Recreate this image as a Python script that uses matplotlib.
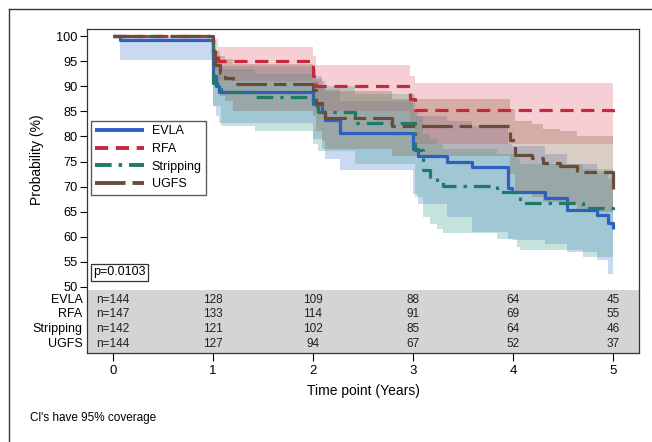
import matplotlib
matplotlib.use("Agg")
import matplotlib.pyplot as plt
from matplotlib.lines import Line2D
import numpy as np

plt.rcParams['font.family'] = ['Liberation Sans', 'DejaVu Sans']
plt.rcParams['lines.scale_dashes'] = False

groups = ["EVLA", "RFA", "Stripping", "UGFS"]

# EVLA
evla_t  = [0.00, 0.07, 1.00, 1.03, 1.06, 2.00, 2.09, 2.12, 2.27, 3.00, 3.05, 3.34, 3.59, 3.95, 3.99, 4.32, 4.54, 4.84, 4.95, 5.00]
evla_s  = [100, 99.3, 92.0, 90.0, 88.9, 86.5, 84.9, 83.3, 80.6, 77.5, 76.0, 75.0, 74.0, 69.7, 69.0, 67.7, 65.3, 64.3, 62.7, 61.5]
evla_lo = [100, 95.2, 86.0, 84.0, 82.7, 79.5, 77.5, 75.5, 73.3, 68.5, 66.5, 64.0, 61.0, 59.5, 59.4, 58.5, 57.0, 55.4, 52.5, 51.0]
evla_hi = [100, 100, 97.0, 95.0, 94.0, 92.0, 91.0, 89.5, 87.0, 85.0, 84.0, 83.0, 82.0, 78.5, 78.0, 76.5, 74.5, 73.0, 71.5, 70.5]

# RFA
rfa_t  = [0.00, 1.00, 1.05, 2.00, 2.03, 2.97, 3.02, 5.00]
rfa_s  = [100, 97.0, 95.0, 92.0, 90.0, 87.5, 85.3, 83.5]
rfa_lo = [100, 93.0, 91.0, 87.0, 85.0, 82.0, 78.5, 76.0]
rfa_hi = [100, 99.5, 97.8, 96.0, 94.2, 92.0, 90.6, 89.0]

# Stripping
str_t  = [0.00, 1.00, 1.08, 1.42, 2.00, 2.05, 2.42, 3.02, 3.10, 3.17, 3.24, 3.30, 3.84, 4.04, 4.07, 4.70, 5.00]
str_s  = [100, 90.6, 88.9, 87.8, 86.0, 84.9, 82.6, 77.3, 73.3, 72.0, 71.0, 70.1, 69.0, 68.0, 66.8, 65.7, 64.5]
str_lo = [100, 86.0, 82.0, 81.0, 78.5, 77.0, 74.5, 68.0, 64.0, 62.5, 61.5, 60.8, 59.5, 58.0, 57.4, 56.0, 54.0]
str_hi = [100, 95.0, 93.5, 92.5, 91.0, 90.0, 88.5, 84.0, 80.5, 79.5, 78.5, 77.5, 76.5, 75.5, 74.5, 73.5, 72.5]

# UGFS
ugfs_t  = [0.00, 1.00, 1.02, 1.07, 1.12, 1.20, 2.00, 2.03, 2.09, 2.12, 2.79, 3.97, 4.02, 4.19, 4.30, 4.47, 4.64, 5.00]
ugfs_s  = [100, 97.0, 94.2, 92.6, 91.6, 90.4, 89.2, 86.7, 84.9, 83.6, 82.1, 79.3, 76.3, 75.6, 74.7, 74.1, 73.0, 69.5]
ugfs_lo = [100, 94.0, 90.0, 88.0, 87.0, 85.0, 84.0, 81.0, 79.0, 77.5, 76.0, 72.5, 69.0, 68.0, 67.0, 66.5, 65.0, 62.0]
ugfs_hi = [100, 99.5, 97.0, 96.0, 95.5, 94.5, 93.5, 91.5, 90.0, 89.0, 87.5, 85.5, 83.0, 82.5, 81.5, 81.0, 80.0, 78.0]

risk_times = [0, 1, 2, 3, 4, 5]
risk_evla = [144, 128, 109, 88, 64, 45]
risk_rfa = [147, 133, 114, 91, 69, 55]
risk_str = [142, 121, 102, 85, 64, 46]
risk_ugfs = [144, 127, 94, 67, 52, 37]

p_text = "p=0.0103"

series = [
    ("EVLA", evla_t, evla_s, evla_lo, evla_hi, "#2f5fc0", "#5080d0", None),
    ("RFA", rfa_t, rfa_s, rfa_lo, rfa_hi, "#c8283c", "#e06070", (9.5, 5.5)),
    ("Stripping", str_t, str_s, str_lo, str_hi, "#1f7a68", "#40a090", (12, 5, 2.5, 5)),
    ("UGFS", ugfs_t, ugfs_s, ugfs_lo, ugfs_hi, "#6a4c3a", "#8a6040", (22, 5, 9, 5)),
]
risks = [risk_evla, risk_rfa, risk_str, risk_ugfs]

W, H = 652, 442
fig = plt.figure(figsize=(W / 100, H / 100), dpi=100)

def fx(px):
    return px / W

def fy(py):
    return 1 - py / H

ax = fig.add_axes([fx(87), fy(290), fx(639) - fx(87), fy(29) - fy(290)])
axt = fig.add_axes([fx(87), fy(353), fx(639) - fx(87), fy(290) - fy(353)], sharex=ax)

for name, t, s, lo, hi, lc, bc, dash in series:
    ax.fill_between(t, lo, hi, step='post', color=bc, alpha=0.3, linewidth=0, zorder=1)

handles = []
for name, t, s, lo, hi, lc, bc, dash in series:
    ln, = ax.step(t, s, where='post', color=lc, linewidth=2.3, zorder=3,
                  solid_capstyle='butt', dash_capstyle='butt')
    if dash is not None:
        ln.set_dashes(dash)
    h = Line2D([], [], color=lc, linewidth=2.8, dash_capstyle='butt', solid_capstyle='butt')
    if dash is not None:
        h.set_dashes(dash)
    handles.append(h)

ax.set_xlim(-0.26, 5.26)
ax.set_ylim(49.4, 101.4)
ax.set_yticks(np.arange(50, 101, 5))
ax.tick_params(axis='y', direction='out', length=5, width=0.8, labelsize=9.2, pad=2)
ax.tick_params(axis='x', which='both', bottom=False, labelbottom=False)
for sp in ax.spines.values():
    sp.set_linewidth(0.9)
    sp.set_color('#333333')
ax.spines['bottom'].set_visible(False)
ax.set_ylabel("Probability (%)", fontsize=10)
ax.yaxis.set_label_coords((44 - 87) / (639 - 87), (290 - 160) / (290 - 29))

leg = ax.legend(handles, groups, loc='upper left', bbox_to_anchor=((91 - 87) / 552, (290 - 121) / 261),
                frameon=True, fancybox=False, edgecolor='#333333', fontsize=9,
                handlelength=3.9, handletextpad=0.6, labelspacing=0.45, borderpad=0.35,
                borderaxespad=0)
leg.get_frame().set_linewidth(1.0)

ax.text((93 - 87) / 552, (290 - 272) / 261, p_text, transform=ax.transAxes, fontsize=9,
        va='center', ha='left',
        bbox=dict(boxstyle='square,pad=0.2', facecolor='white', edgecolor='#333333', linewidth=0.9))

# at-risk table
axt.set_facecolor('#d4d4d4')
axt.set_ylim(0, 4)
row_y = [3.38, 2.47, 1.52, 0.57]
for i, (g, r) in enumerate(zip(groups, risks)):
    for j, (tt, n) in enumerate(zip(risk_times, r)):
        if j == 0:
            axt.text(-0.17, row_y[i], f"n={n}", fontsize=8.5, ha='left', va='center', color='#222222')
        else:
            axt.text(tt, row_y[i], str(n), fontsize=8.5, ha='center', va='center', color='#222222')
    axt.text(-0.008, row_y[i], g, transform=axt.get_yaxis_transform(), fontsize=9,
             ha='right', va='center')
axt.set_yticks([])
axt.set_xticks(risk_times)
axt.tick_params(axis='x', direction='out', length=6, width=0.8, labelsize=9.5, pad=3)
for sp in axt.spines.values():
    sp.set_linewidth(0.9)
    sp.set_color('#333333')
axt.spines['top'].set_visible(False)
axt.set_xlabel("Time point (Years)", fontsize=10, labelpad=5)

fig.text(fx(30), fy(418), "Cl's have 95% coverage", fontsize=8.5, ha='left', va='center')

# outer frame
fig.add_artist(Line2D([fx(9), fx(9)], [fy(9), 0], color='#333333', linewidth=1.0))
fig.add_artist(Line2D([fx(9), 1], [fy(9), fy(9)], color='#333333', linewidth=1.0))

fig.savefig("out.png", dpi=100)
